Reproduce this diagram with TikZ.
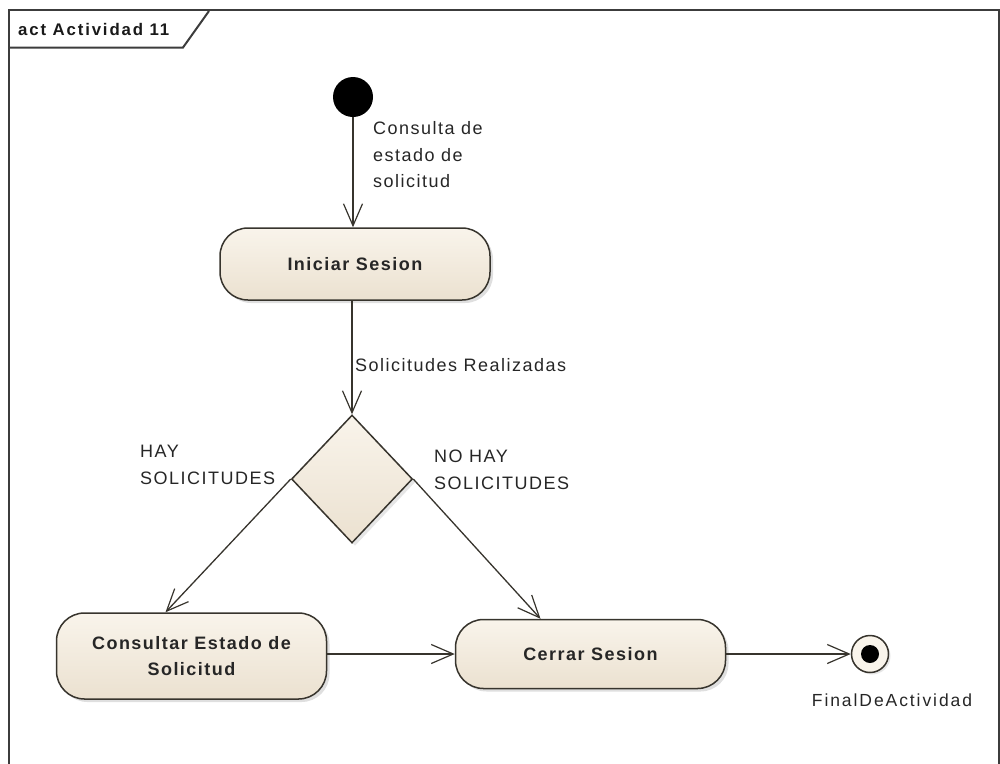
\documentclass[tikz,border=0pt]{standalone}
\usepackage{fontspec}
\setmainfont{Liberation Sans}
\usetikzlibrary{arrows.meta,shapes.geometric,shadows}

\definecolor{actlight}{RGB}{249,244,235}
\definecolor{actdark}{RGB}{235,225,208}
\definecolor{actline}{RGB}{55,52,45}
\definecolor{framecol}{RGB}{60,60,60}

% loosely tracked text, as the modelling tool renders it
\newfontfamily\diagfont[LetterSpace=8.3]{Liberation Sans}
\newfontfamily\tagfont[LetterSpace=11]{Liberation Sans}

\tikzset{
  flow/.style={draw=actline, line width=1.3pt,
    -{Straight Barb[length=22pt,width=19pt,line width=1.2pt]}},
  action/.style={draw=actline, line width=1.5pt, rounded corners=28pt,
    top color=actlight, bottom color=actdark,
    drop shadow={shadow xshift=3pt, shadow yshift=-3pt, opacity=0.25},
    font=\diagfont\fontsize{18}{26}\selectfont\bfseries, align=center,
    text=black!85, inner sep=0pt},
  decision/.style={diamond, draw=actline, line width=1.5pt,
    top color=actlight, bottom color=actdark,
    drop shadow={shadow xshift=3pt, shadow yshift=-3pt, opacity=0.2},
    minimum width=121pt, minimum height=128pt, inner sep=0pt, aspect=1},
  guard/.style={font=\diagfont\fontsize{18}{26.5}\selectfont, text=black!85,
    align=left, anchor=west, inner sep=0pt},
}

\begin{document}
\begin{tikzpicture}[x=1pt,y=-1pt]
\useasboundingbox (0,0) rectangle (1000,763);

% diagram frame with its name tab
\draw[framecol, line width=2pt] (9,775) -- (9,10) -- (999,10) -- (999,775);
\draw[framecol, line width=2pt] (9,47.5) -- (183,47.5) -- (209,11);
\node[font=\tagfont\fontsize{16.8}{20}\selectfont\bfseries, anchor=west, inner sep=0pt,
  text=black!90] (title) at (18,29) {act Actividad 11};

% initial and final nodes
\node[circle, fill=black, minimum size=40pt, inner sep=0pt] (start) at (353,97) {};
\node[circle, draw=actline, line width=1.5pt, fill=actlight,
  drop shadow={shadow xshift=2pt, shadow yshift=-2pt, opacity=0.2},
  minimum size=37pt, inner sep=0pt] (final) at (870,654) {};
\node[circle, fill=black, minimum size=18pt, inner sep=0pt] (finaldot) at (final) {};
\node[font=\tagfont\fontsize{17.5}{20}\selectfont, text=black!85, inner sep=0pt]
  (finallabel) at (892,700) {FinalDeActividad};

% actions
\node[action, minimum width=270pt, minimum height=72pt] (login) at (355,264) {Iniciar Sesion};
\node[decision] (dec) at (352,479) {};
\node[action, minimum width=270pt, minimum height=86pt] (consult) at (191.5,656)
  {Consultar Estado de\\Solicitud};
\node[action, minimum width=270pt, minimum height=69pt] (logout) at (590.5,654) {Cerrar Sesion};

% flows
\draw[flow] (start) -- (start |- login.north);
\draw[flow] (login.south -| dec.north) -- (dec.north);
\draw[flow] (dec.west) -- ([xshift=-26pt]consult.north);
\draw[flow] (dec.east) -- ([xshift=-50pt]logout.north);
\draw[flow] (consult.east |- logout.west) -- (logout.west);
\draw[flow] (logout.east) -- (final.west);

% guards and flow names
\node[guard] (g1) at (373,155) {Consulta de\\estado de\\solicitud};
\node[guard] (g2) at (355,365) {Solicitudes Realizadas};
\node[guard] (g3) at (140,465) {HAY\\SOLICITUDES};
\node[guard] (g4) at (434,470) {NO HAY\\SOLICITUDES};
\end{tikzpicture}
\end{document}
